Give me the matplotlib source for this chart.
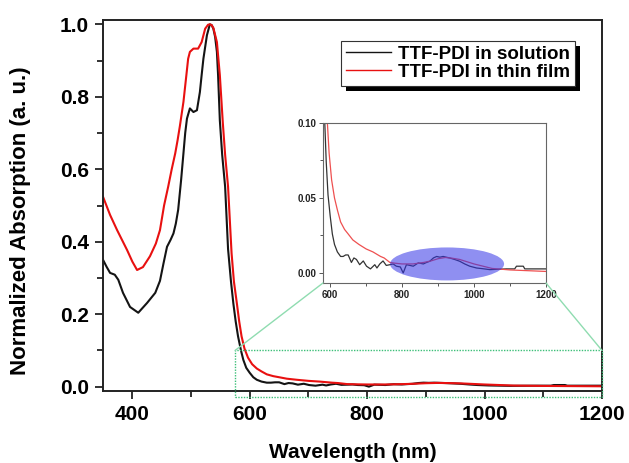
import matplotlib
matplotlib.use("Agg")
import matplotlib.pyplot as plt
from matplotlib.patches import Ellipse, Rectangle, ConnectionPatch
from matplotlib.ticker import MultipleLocator, FormatStrFormatter

plt.rcParams["font.family"] = ["Liberation Sans", "DejaVu Sans"]
plt.rcParams["font.weight"] = "bold"

# TTF-PDI in solution
wl_sol = [350, 356, 362, 370, 376, 384, 396, 410, 425, 439, 447, 453, 459, 465,
          470, 474, 478, 483, 487, 490, 493, 498, 504, 510, 515, 518, 521, 527,
          532, 535, 538, 541, 544, 546, 549, 553, 558, 563, 568, 572, 576, 580,
          585, 589, 594, 600, 606, 612, 620, 629, 636, 643, 650,
          659, 666, 673, 682, 692, 701, 712, 724, 730, 738, 747, 756, 766, 775,
          784, 795, 803, 812, 822, 831, 845, 859, 868, 877, 887, 896, 905, 914,
          923, 932, 946, 960, 974, 988, 1007, 1025, 1044, 1070, 1090, 1113,
          1118, 1137, 1141, 1170, 1200]
abs_sol = [0.350, 0.331, 0.314, 0.309, 0.295, 0.259, 0.220, 0.204, 0.231, 0.259,
           0.292, 0.340, 0.386, 0.405, 0.423, 0.450, 0.488, 0.570, 0.644, 0.700,
           0.740, 0.768, 0.758, 0.763, 0.813, 0.860, 0.905, 0.970, 1.000, 0.998,
           0.988, 0.965, 0.924, 0.860, 0.735, 0.640, 0.552, 0.380, 0.290, 0.230,
           0.180, 0.139, 0.100, 0.074, 0.052, 0.038, 0.026, 0.019, 0.014, 0.011,
           0.011, 0.012, 0.012,
           0.007, 0.010, 0.009, 0.0055, 0.008, 0.0045, 0.0027,
           0.0055, 0.0033, 0.006, 0.008, 0.005, 0.0055, 0.006, 0.0045, 0.004,
           0.000, 0.0055, 0.005, 0.0045, 0.0067, 0.006, 0.007, 0.0078, 0.010,
           0.011, 0.0105, 0.011, 0.0105, 0.010, 0.009, 0.0078, 0.006, 0.0045,
           0.0033, 0.0028, 0.0022, 0.0025, 0.0027, 0.0027, 0.0045, 0.0045,
           0.0027, 0.0027, 0.0027]

# TTF-PDI in thin film
wl_film = [350, 362, 374, 391, 400, 408, 418, 430, 440, 447, 454, 461, 467, 473,
           477, 481, 487, 492, 495, 498, 504, 512, 518, 524, 529, 532, 535, 538,
           544, 549, 554, 558, 563, 566, 569, 573, 578, 582, 586, 591, 597, 604,
           612, 620, 629, 640, 650, 663, 680, 700, 719, 740, 750, 766, 780, 800,
           830, 860, 880, 900, 920, 940, 960, 980, 1000, 1025, 1050, 1075, 1100,
           1150, 1200]
abs_film = [0.524, 0.474, 0.432, 0.377, 0.345, 0.322, 0.330, 0.360, 0.395, 0.432,
            0.500, 0.552, 0.600, 0.644, 0.680, 0.720, 0.786, 0.860, 0.905, 0.924,
            0.933, 0.933, 0.951, 0.988, 0.999, 1.000, 0.998, 0.990, 0.951, 0.860,
            0.730, 0.640, 0.552, 0.460, 0.368, 0.290, 0.230, 0.180, 0.139, 0.105,
            0.080, 0.062, 0.050, 0.042, 0.034, 0.029, 0.026, 0.022, 0.019, 0.016,
            0.014, 0.011, 0.010, 0.007, 0.0065, 0.006, 0.006, 0.007, 0.008,
            0.0095, 0.0103, 0.0098, 0.009, 0.0075, 0.006, 0.0045, 0.003, 0.0025,
            0.002, 0.0015, 0.001]

labels = ["TTF-PDI in solution", "TTF-PDI in thin film"]
colors = ["#141414", "#e81010"]

fig = plt.figure(figsize=(6.29, 4.63), dpi=100)
ax = fig.add_axes([0.1638, 0.1555, 0.7932, 0.8013])

ax.plot(wl_sol, abs_sol, color=colors[0], lw=1.5, label=labels[0])
ax.plot(wl_film, abs_film, color=colors[1], lw=1.5, label=labels[1])

ax.set_xlim(350, 1200)
ax.set_ylim(-0.012, 1.012)
ax.xaxis.set_major_locator(MultipleLocator(200))
ax.xaxis.set_minor_locator(MultipleLocator(100))
ax.yaxis.set_major_locator(MultipleLocator(0.2))
ax.yaxis.set_minor_locator(MultipleLocator(0.1))
ax.tick_params(which="both", direction="out", width=1.3, colors="#222222",
               labelcolor="black", labelsize=15)
ax.tick_params(which="major", length=6, pad=4)
ax.tick_params(which="minor", length=4)
for lab in ax.get_xticklabels() + ax.get_yticklabels():
    lab.set_fontweight("bold")
for s in ax.spines.values():
    s.set_linewidth(1.4)
    s.set_color("#222222")

ax.set_xlabel("Wavelength (nm)", fontsize=15, fontweight="bold", labelpad=14)
ax.set_ylabel("Normalized Absorption (a. u.)", fontsize=16, fontweight="bold")
ax.yaxis.set_label_coords(-0.145, 0.46)

leg = ax.legend(loc="upper right", bbox_to_anchor=(0.946, 0.943),
                borderaxespad=0, fancybox=False, frameon=True,
                prop={"size": 13.5, "weight": "bold"}, handlelength=2.4,
                handletextpad=0.4, labelspacing=0.05, borderpad=0.25)
leg.get_frame().set_edgecolor("#333333")
leg.get_frame().set_linewidth(0.8)
leg.get_frame().set_alpha(1.0)
for h in leg.get_lines():
    h.set_linewidth(1.0)

# zoom box around the tail region
green = "#3cbf78"
ax.add_patch(Rectangle((575, -0.028), 625, 0.128, fill=False, edgecolor=green,
                       linestyle=(0, (1, 1)), lw=1.0, clip_on=False, zorder=3))

# inset
axins = fig.add_axes([0.5135, 0.3888, 0.3545, 0.3455])
axins.plot(wl_sol, abs_sol, color="#333333", lw=0.9)
axins.plot(wl_film, abs_film, color="#ee5050", lw=0.9)
axins.set_xlim(580, 1200)
axins.set_ylim(-0.0067, 0.10)
axins.xaxis.set_major_locator(MultipleLocator(200))
axins.xaxis.set_minor_locator(MultipleLocator(100))
axins.yaxis.set_major_locator(MultipleLocator(0.05))
axins.yaxis.set_minor_locator(MultipleLocator(0.025))
axins.yaxis.set_major_formatter(FormatStrFormatter("%.2f"))
axins.tick_params(which="both", direction="out", width=0.7, colors="#555555",
                  labelcolor="#222222", labelsize=7, pad=2)
axins.tick_params(which="major", length=3)
axins.tick_params(which="minor", length=2)
for lab in axins.get_xticklabels() + axins.get_yticklabels():
    lab.set_fontweight("bold")
for s in axins.spines.values():
    s.set_linewidth(0.8)
    s.set_color("#666666")

axins.add_patch(Ellipse((925, 0.006), 317, 0.022, facecolor=(0.2, 0.2, 0.9),
                        alpha=0.55, edgecolor="none", zorder=3))

for xa, xb in [(575, 0), (1200, 1)]:
    con = ConnectionPatch(xyA=(xa, 0.1), coordsA=ax.transData,
                          xyB=(xb, 0), coordsB=axins.transAxes,
                          color="#8fdcb0", lw=1.0)
    fig.add_artist(con)

# offset shadow behind the legend
fig.canvas.draw()
bb = leg.get_window_extent()
off = 5
shadow = Rectangle((bb.x0 + off, bb.y0 - off), bb.width, bb.height,
                   transform=None, facecolor="black", edgecolor="none",
                   zorder=4.5, clip_on=False)
ax.add_artist(shadow)

fig.savefig("out.png", dpi=100)
